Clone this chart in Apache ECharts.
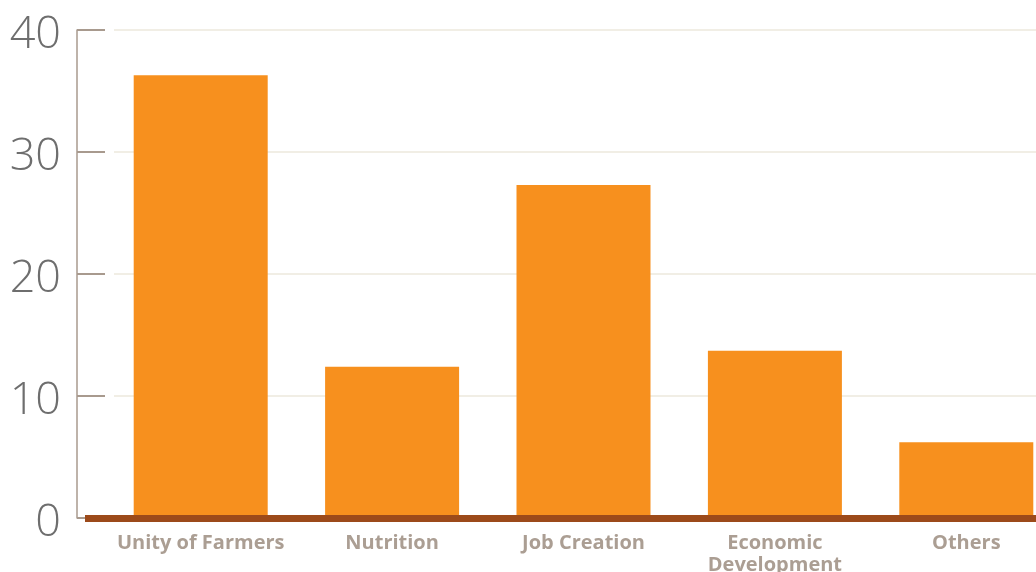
<!DOCTYPE html>
<html>
<head>
<meta charset="utf-8">
<script src="https://cdn.jsdelivr.net/npm/echarts@6/dist/echarts.min.js"></script>
<style>
  html, body { margin: 0; padding: 0; background: #fff; }
  #chart { width: 1036px; height: 572px; }
</style>
</head>
<body>
<div id="chart"></div>
<script>
// categories and values
var categories = ['Unity of Farmers', 'Nutrition', 'Job Creation', 'Economic\nDevelopment', 'Others'];
var values = [36.3, 12.4, 27.3, 13.7, 6.2];
var yTicks = { min: 0, max: 40, interval: 10 };

function DrawChart() {
    var chart = echarts.init(document.getElementById('chart'));
    var option = {
        animation: false,
        grid: [
            // value axis + gridlines
            { left: 114, right: 0, top: 30, bottom: 54, outerBoundsMode: 'none' },
            // bars (runs past the right edge, like the original)
            { left: 105, width: 957, top: 30, bottom: 54, outerBoundsMode: 'none' },
            // brown baseline
            { left: 85, right: 0, top: 30, bottom: 54, outerBoundsMode: 'none' }
        ],
        xAxis: [
            { gridIndex: 0, type: 'category', data: categories, show: false },
            {
                gridIndex: 1,
                type: 'category',
                data: categories,
                axisLine: { show: false },
                axisTick: { show: false },
                axisLabel: {
                    interval: 0,
                    margin: 14,
                    fontFamily: 'Open Sans',
                    fontWeight: 'bold',
                    fontSize: 20,
                    lineHeight: 22,
                    color: '#ab9e93'
                }
            },
            {
                gridIndex: 2,
                type: 'category',
                data: categories,
                z: 5,
                axisLine: { lineStyle: { color: '#9c4a1a', width: 7, cap: 'butt' } },
                axisTick: { show: false },
                axisLabel: { show: false }
            }
        ],
        yAxis: [
            {
                gridIndex: 0,
                type: 'value',
                min: yTicks.min,
                max: yTicks.max,
                interval: yTicks.interval,
                offset: 37,
                axisLine: { show: true, lineStyle: { color: '#a89a8e', width: 1.5 } },
                axisTick: { show: true, inside: true, length: 28, lineStyle: { color: '#a89a8e', width: 2 } },
                splitLine: { lineStyle: { color: '#ece8dc', width: 1.5 } },
                axisLabel: {
                    margin: 16,
                    verticalAlign: 'top',
                    lineHeight: 11,
                    fontFamily: 'Open Sans',
                    fontWeight: 300,
                    fontSize: 45,
                    color: '#6e6e6e'
                }
            },
            { gridIndex: 1, type: 'value', min: yTicks.min, max: yTicks.max, show: false },
            { gridIndex: 2, type: 'value', min: yTicks.min, max: yTicks.max, show: false }
        ],
        series: [{
            type: 'bar',
            xAxisIndex: 1,
            yAxisIndex: 1,
            barWidth: 134,
            itemStyle: { color: '#f7901e' },
            data: values
        }]
    };
    chart.setOption(option);
};

DrawChart();
</script>
</body>
</html>
